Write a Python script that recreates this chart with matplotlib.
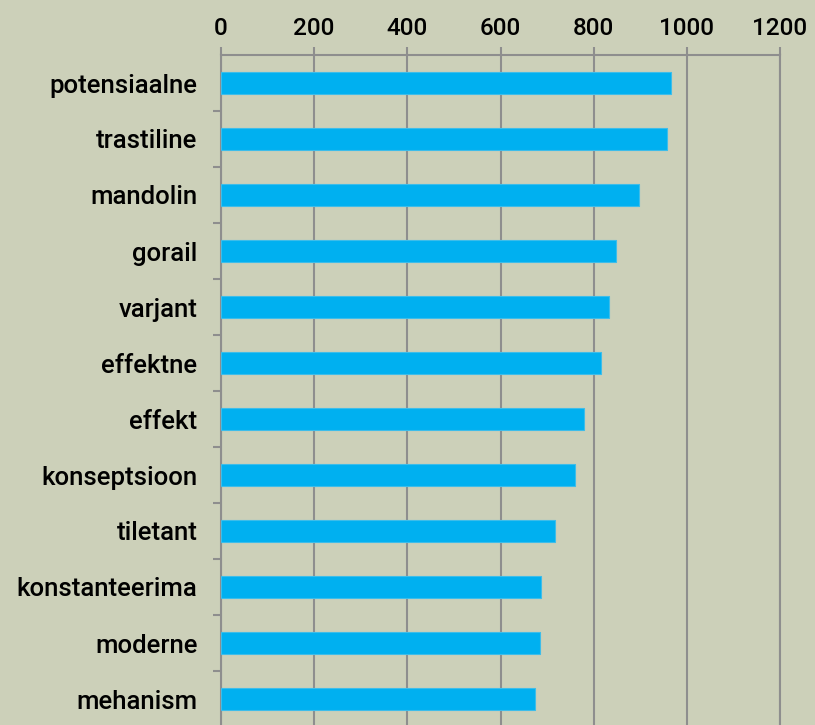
import matplotlib
matplotlib.use("Agg")
import matplotlib.pyplot as plt
import numpy as np

categories = ["potensiaalne", "trastiline", "mandolin", "gorail", "varjant",
              "effektne", "effekt", "konseptsioon", "tiletant",
              "konstanteerima", "moderne", "mehanism"]
values = [967, 957, 898, 848, 833, 816, 780, 761, 717, 688, 685, 675]
xticks = [0, 200, 400, 600, 800, 1000, 1200]

BG = "#CCD0B9"
GRID = "#8E8E8E"
BAR = "#00B0F0"

plt.rcParams['font.family'] = ['Roboto', 'DejaVu Sans']

fig = plt.figure(figsize=(8.15, 7.25), dpi=100, facecolor=BG)
ax = fig.add_axes([221/815, 1 - 727/725, (780-221)/815, 672/725])
ax.set_facecolor(BG)

y = np.arange(len(categories))
ax.barh(y, values, height=0.405, color=BAR, edgecolor="#3DBDEA", linewidth=0.8, zorder=3)

ax.set_xlim(0, 1200)
ax.set_ylim(len(categories) - 0.5, -0.5)

ax.xaxis.tick_top()
ax.set_xticks(xticks)
ax.set_xticklabels([str(t) for t in xticks], fontsize=17.5, fontweight='medium')
ax.tick_params(axis='x', which='major', length=6, width=1.5, color=GRID, pad=5, direction='out')

ax.set_yticks(y)
ax.set_yticklabels(categories, fontsize=18.5, fontweight='medium')
ax.tick_params(axis='y', which='major', length=0, pad=17)
ax.set_yticks(np.arange(len(categories)) + 0.5, minor=True)
ax.tick_params(axis='y', which='minor', length=6, width=1.5, color=GRID, direction='out')

ax.grid(axis='x', color=GRID, linewidth=1.5, zorder=1)
for s in ['bottom']:
    ax.spines[s].set_visible(False)
for s in ['top', 'left', 'right']:
    ax.spines[s].set_color(GRID)
    ax.spines[s].set_linewidth(1.5)

fig.savefig("out.png", dpi=100, facecolor=BG)
